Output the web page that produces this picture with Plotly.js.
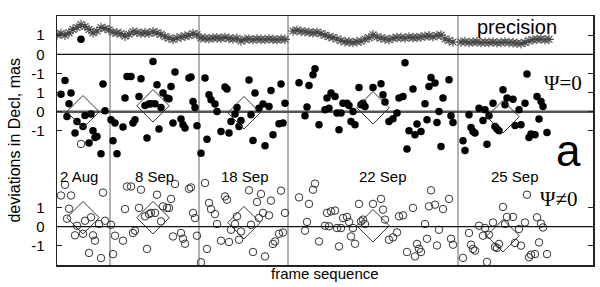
<!DOCTYPE html>
<html>
<head>
<meta charset="utf-8">
<script src="https://cdn.plot.ly/plotly-3.0.1.min.js"></script>
<style>html,body{margin:0;padding:0;background:#fff}#chart{width:600px;height:287px}</style>
</head>
<body>
<div id="chart"></div>
<script>
// ---- data (frame index, deviation in mas) ----
// precision (top band)
const precX = [0,2,4,6,8,10,12,14,16,18,20,22,24,26,28,30,32,34,36,38,40,42,44,46,48,50,52,54,56,58,60,62,64,66,68,70,72,74,76,78,80,82,84,86,88,90,92,94,96,98,100,102,104,106,108,110,112,114,118,120,122,124,126,128,130,132,134,136,138,140,142,144,146,148,150,152,154,156,158,160,162,164,166,168,170,172,174,176,178,180,182,184,186,188,190,192,194,196,198,202,204,206,208,210,212,214,216,218,220,222,224,226,228,230,232,234,236,238,240,242,244,246];
const precY = [1.02,1.08,1.00,1.12,1.30,1.40,1.55,1.45,1.30,1.12,1.22,1.40,1.35,1.28,1.15,1.12,1.08,0.95,1.05,1.18,1.15,1.10,1.12,1.10,1.18,1.12,1.05,0.92,0.85,0.78,0.85,0.90,0.95,0.98,1.08,1.02,0.86,0.84,0.82,0.85,0.86,0.84,0.88,0.83,0.80,0.84,0.70,0.78,0.80,0.76,0.80,0.78,0.77,0.80,0.78,0.76,0.80,0.78,1.22,1.25,1.20,1.18,1.15,1.12,1.15,1.08,1.00,0.92,0.88,0.80,0.72,0.66,0.65,0.62,0.66,0.68,0.80,0.86,1.02,0.90,0.85,0.80,0.76,0.84,0.88,0.88,0.85,0.90,0.87,0.88,0.90,0.94,0.96,0.92,0.98,1.00,0.80,0.72,0.64,0.64,0.66,0.62,0.64,0.65,0.62,0.63,0.62,0.64,0.60,0.62,0.64,0.62,0.60,0.58,0.56,0.62,0.70,0.76,0.78,0.80,0.76,0.78];

// Psi = 0 solution (filled circles)
const psi0X = [2,4,5,6,7,9,10,12,13,14,16,17,18,19,20,22,23,24,27,28,29,30,33,34,35,37,38,39,41,42,44,45,46,47,48,49,50,51,52,53,55,56,57,58,59,62,63,64,66,67,68,69,70,72,74,75,76,77,79,80,82,84,85,86,87,89,90,91,92,96,97,98,99,101,103,104,106,107,108,111,112,113,114,121,124,125,126,128,129,131,134,135,136,137,139,140,141,142,143,145,146,147,148,149,151,152,153,154,158,162,163,164,166,168,170,171,173,174,175,176,178,179,180,182,184,185,186,187,189,190,191,192,193,196,197,198,203,204,206,207,208,209,211,213,214,215,216,218,219,220,221,223,224,225,228,229,231,232,234,235,236,237,239,240,241,242,243,245];
const psi0Y = [0.92,1.63,-0.25,0.42,0.98,-1.11,-0.51,3.78,-0.77,-0.19,-1.63,-0.12,-0.99,-1.34,-1.29,-2.19,1.45,0.05,-0.42,-1.51,-0.59,-2.19,-0.80,0.72,1.84,1.84,-0.59,-0.42,0.80,1.72,0.33,-1.37,0.40,0.42,2.63,0.42,1.41,-0.90,0.22,0.98,0.72,0.68,1.32,-0.59,2.07,-0.38,-0.68,-0.85,1.76,1.81,0.54,0.22,-0.73,-2.16,1.76,-1.43,0.89,0.63,0.40,0.02,-1.03,1.29,1.19,-1.11,-0.51,-0.12,0.22,-0.77,-0.45,1.66,-0.16,-1.50,0.98,0.19,0.40,-1.78,0.28,1.11,-1.20,-0.63,1.45,-0.59,0.45,1.51,-0.21,0.25,1.37,1.93,2.25,-0.68,0.10,0.72,0.19,0.98,0.80,-0.07,-0.94,-0.07,0.45,0.45,0.33,-0.51,0.02,-0.68,1.27,0.37,0.45,0.28,1.27,1.46,0.89,0.51,-0.51,-0.37,-0.07,0.72,0.80,2.56,-1.95,-0.99,1.19,-1.20,-0.64,-1.03,0.42,-0.42,1.32,1.79,1.50,-0.56,0.02,-1.81,0.72,1.67,-0.21,-0.56,-1.51,-2.02,-0.16,-0.82,-1.03,-1.11,0.19,-0.45,0.10,-1.69,-0.21,0.45,-0.77,-0.90,-0.99,1.15,0.37,0.72,0.66,-0.72,0.10,-0.68,0.45,1.97,-1.34,-1.16,-1.20,0.80,-0.38,0.54,0.28,-1.08];

// Psi != 0 solution (open circles)
const psi1X = [2,4,5,6,7,9,10,12,13,14,16,17,18,19,21,22,23,24,27,28,29,33,34,35,37,38,39,41,42,44,45,46,47,49,50,52,53,55,56,57,58,59,62,63,64,66,67,68,69,70,72,74,75,76,77,79,80,82,84,85,86,87,89,90,91,92,96,97,98,100,101,102,103,104,106,107,108,109,111,112,113,114,121,124,125,126,128,129,131,134,135,136,137,139,140,141,142,143,145,146,147,148,149,151,152,153,154,158,162,163,164,166,168,170,171,173,175,178,179,180,181,182,184,185,186,187,189,190,191,193,196,197,198,203,206,207,208,209,211,213,214,215,216,218,219,220,221,223,224,225,228,229,231,232,234,235,236,237,239,240,241,242,243,245];
const psi1Y = [1.63,2.19,0.42,0.94,1.63,-0.45,0.05,4.32,-0.37,0.31,-1.37,0.49,-0.45,-0.73,0.14,-1.64,1.78,0.31,0.10,-1.43,-0.47,-0.73,0.92,2.10,2.10,-0.33,-0.21,0.98,1.93,0.54,-1.16,0.66,0.72,0.72,1.67,0.28,1.06,0.98,0.98,1.45,-0.51,2.23,-0.33,-0.63,-0.89,1.98,2.05,0.72,0.45,-0.47,-1.86,2.28,-1.16,1.24,0.92,0.66,0.14,-0.73,1.58,1.41,-0.80,-0.16,0.14,0.54,-0.68,-0.25,1.90,0.10,-1.32,1.29,0.45,1.71,0.72,-1.55,0.59,1.36,-0.90,-0.77,-0.37,1.88,-0.30,0.72,1.53,-0.21,0.25,1.19,1.93,2.25,-0.77,0.05,0.72,0.02,0.80,0.84,-0.07,-1.03,-0.07,0.45,0.51,0.25,-0.51,-0.07,-0.89,1.19,0.28,0.37,0.14,1.19,1.45,0.89,0.37,-0.68,-0.56,-0.30,0.54,0.59,-1.32,0.98,-1.55,-0.90,-1.15,-1.32,0.14,-0.63,1.06,1.90,1.15,-0.98,-0.16,0.92,1.45,-0.63,-0.94,-1.63,-0.33,-0.94,-1.16,-1.25,0.05,-0.47,-0.07,-1.84,-0.42,0.22,-1.06,-1.11,-0.90,1.03,0.14,0.51,0.51,-0.85,-0.12,-0.99,0.22,1.67,-1.60,-1.46,-1.43,0.49,-0.82,0.16,-0.04,-1.43];

// per-night means (diamonds)
const nights = ['2 Aug','8 Sep','18 Sep','22 Sep','25 Sep'];
const meanX = [13, 48, 93.5, 158, 223];
const meanPsi0 = [0.00, 0.31, -0.05, 0.21, -0.26];
const meanPsi1 = [0.47, 0.47, 0.21, 0.05, -0.47];
const nightBounds = [26.5, 71, 115.5, 200.5];

// panel offsets on the shared y axis
const OFF_PREC = 3, OFF_P0 = 0, OFF_P1 = -6;
const tickVals = [4,3,2,1,0,-1,-5,-6,-7];
const tickText = ['1','0','-1','1','0','-1','1','0','-1'];

const shift = (arr, o) => arr.map(v => v + o);
const FONT = 'Liberation Sans, Arial, sans-serif';
const SERIF = 'Liberation Serif, Times New Roman, serif';

const traces = [
  {x: precX, y: shift(precY, OFF_PREC), type:'scatter', mode:'markers',
   marker:{symbol:'asterisk-open', size:8, color:'#444', line:{color:'#444', width:1.1}}, hoverinfo:'skip'},
  {x: psi0X, y: shift(psi0Y, OFF_P0), type:'scatter', mode:'markers',
   marker:{symbol:'circle', size:7.5, color:'#000'}},
  {x: psi1X, y: shift(psi1Y, OFF_P1), type:'scatter', mode:'markers',
   marker:{symbol:'circle-open', size:7.5, color:'#333', line:{color:'#333', width:1}}},
  {x: meanX, y: shift(meanPsi0, OFF_P0), type:'scatter', mode:'markers',
   marker:{symbol:'diamond-open', size:25, color:'#333', line:{color:'#333', width:1}}},
  {x: meanX, y: shift(meanPsi1, OFF_P1), type:'scatter', mode:'markers',
   marker:{symbol:'diamond-open', size:25, color:'#333', line:{color:'#333', width:1}}}
];

const shapes = [];
nightBounds.forEach(b => shapes.push({type:'line', xref:'x', yref:'paper', x0:b, x1:b, y0:0, y1:1,
  line:{color:'#666', width:1}, layer:'below'}));
shapes.push({type:'line', xref:'paper', yref:'y', x0:0, x1:1, y0:OFF_PREC, y1:OFF_PREC, line:{color:'#111', width:1.3}});
shapes.push({type:'line', xref:'paper', yref:'y', x0:0, x1:1, y0:OFF_P0, y1:OFF_P0, line:{color:'#555', width:2.4}, layer:'below'});
shapes.push({type:'line', xref:'paper', yref:'y', x0:0, x1:1, y0:OFF_P1, y1:OFF_P1, line:{color:'#111', width:1.3}});

const labelX = [11, 48.5, 94, 163, 229];
const annotations = nights.map((t,i) => ({x:labelX[i], y:-3.4, xref:'x', yref:'y', text:t, showarrow:false,
  font:{family:FONT, size:15, color:'#000'}, xanchor:'center', yanchor:'middle'}));
annotations.push({x:230, y:4.44, xref:'x', yref:'y', text:'precision', showarrow:false,
  font:{family:FONT, size:20, color:'#000'}});
annotations.push({x:253, y:1.49, xref:'x', yref:'y', text:'Ψ=0', showarrow:false,
  font:{family:SERIF, size:21, color:'#000'}});
annotations.push({x:251, y:-4.57, xref:'x', yref:'y', text:'Ψ≠0', showarrow:false,
  font:{family:SERIF, size:21, color:'#000'}});
annotations.push({x:255.5, y:-2.0, xref:'x', yref:'y', text:'a', showarrow:false,
  font:{family:FONT, size:44, color:'#000'}});
annotations.push({x:0.5, y:-0.036, xref:'paper', yref:'paper', text:'frame sequence', showarrow:false,
  font:{family:FONT, size:15, color:'#000'}, yanchor:'middle'});
annotations.push({x:-0.08, y:0.5, xref:'paper', yref:'paper', text:'deviations in Decl, mas', showarrow:false,
  textangle:-90, font:{family:FONT, size:16, color:'#000'}, xanchor:'center', yanchor:'middle'});

const layout = {
  width:600, height:287,
  margin:{l:57, r:7, t:16, b:22, pad:0},
  paper_bgcolor:'#fff', plot_bgcolor:'#fff',
  showlegend:false,
  xaxis:{range:[0,268], showgrid:false, zeroline:false, showticklabels:false, ticks:'',
    showline:true, mirror:true, linecolor:'#222', linewidth:1.5},
  yaxis:{range:[-8,5], showgrid:false, zeroline:false, tickmode:'array', tickvals:tickVals, ticktext:tickText,
    ticks:'inside', ticklen:5, tickcolor:'#222', tickwidth:1, ticklabelstandoff:8,
    tickfont:{family:FONT, size:15, color:'#000'},
    showline:true, mirror:'ticks', linecolor:'#222', linewidth:1.5},
  shapes:shapes,
  annotations:annotations
};

Plotly.newPlot('chart', traces, layout, {displayModeBar:false, staticPlot:true});
</script>
</body>
</html>
